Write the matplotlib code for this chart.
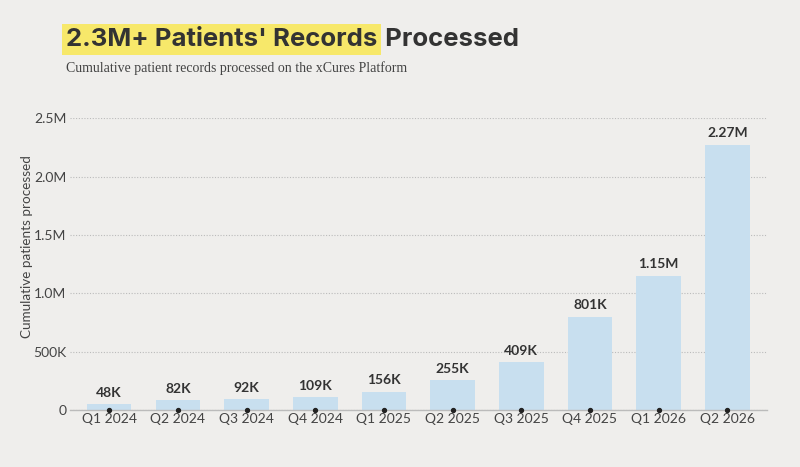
import matplotlib
matplotlib.use("Agg")
import matplotlib.pyplot as plt

categories = ["Q1 2024", "Q2 2024", "Q3 2024", "Q4 2024", "Q1 2025",
              "Q2 2025", "Q3 2025", "Q4 2025", "Q1 2026", "Q2 2026"]
values = [48000, 82000, 92000, 109000, 156000, 255000, 409000, 801000, 1150000, 2270000]
value_labels = ["48K", "82K", "92K", "109K", "156K", "255K", "409K", "801K", "1.15M", "2.27M"]
yticks = [0, 500000, 1000000, 1500000, 2000000, 2500000]
ytick_labels = ["0", "500K", "1.0M", "1.5M", "2.0M", "2.5M"]

BG = "#EFEEEC"
BAR = "#C8DFEF"
TXT = "#333333"
SANS = ["Lato", "DejaVu Sans"]
TITLE = ["Inter", "DejaVu Sans"]

fig = plt.figure(figsize=(8, 4.67), dpi=100, facecolor=BG)
ax = fig.add_axes([0.0875, 0.122, 0.8715, 0.625])
ax.set_facecolor(BG)

x = list(range(len(categories)))
ax.bar(x, values, width=0.65, color=BAR, zorder=2)
ax.scatter(x, [0] * len(x), s=8, color="#222222", zorder=4, clip_on=False)
for xi, v, lab in zip(x, values, value_labels):
    ax.annotate(lab, (xi, v), xytext=(0, 4), textcoords="offset points",
                ha="center", va="bottom", fontsize=10, fontweight="bold",
                color=TXT, family=SANS, clip_on=False)

ax.set_xlim(-0.57, 9.58)
ax.set_ylim(0, 2500000)
ax.set_yticks(yticks)
ax.set_yticklabels(ytick_labels)
ax.set_xticks(x)
ax.set_xticklabels(categories)
ax.tick_params(axis="both", length=0, labelsize=10, labelcolor="#444444")
ax.tick_params(axis="x", pad=2.5)
ax.tick_params(axis="y", pad=2.5)
for lab in ax.get_xticklabels() + ax.get_yticklabels():
    lab.set_family(SANS)
ax.grid(axis="y", linestyle=(0, (1, 1.5)), color="#BBBBBB", linewidth=0.8, zorder=0)
for s in ["top", "right", "left"]:
    ax.spines[s].set_visible(False)
ax.spines["bottom"].set_color("#BBBBBB")
ax.spines["bottom"].set_linewidth(1.0)
ax.spines["bottom"].set_zorder(3)
ax.set_ylabel("Cumulative patients processed", fontsize=9.7, color="#444444",
              family=SANS, labelpad=0, y=0.56)

t1 = fig.text(0.0825, 0.9015, "2.3M+ Patients' Records", fontsize=18.5,
              fontweight="bold", color=TXT, family=TITLE, va="baseline",
              bbox=dict(boxstyle="square,pad=0.14", facecolor="#F7E86A", edgecolor="none"))
ax.annotate(" Processed", xy=(1, 0), xycoords=t1, xytext=(1, 0),
            textcoords="offset points", fontsize=18.5, fontweight="bold",
            color=TXT, family=TITLE, va="bottom", ha="left", annotation_clip=False)
fig.text(0.082, 0.845, "Cumulative patient records processed on the xCures Platform",
         fontsize=10, color="#444444", family=["Liberation Serif", "DejaVu Serif"])

fig.savefig("out.png", dpi=100, facecolor=BG)
